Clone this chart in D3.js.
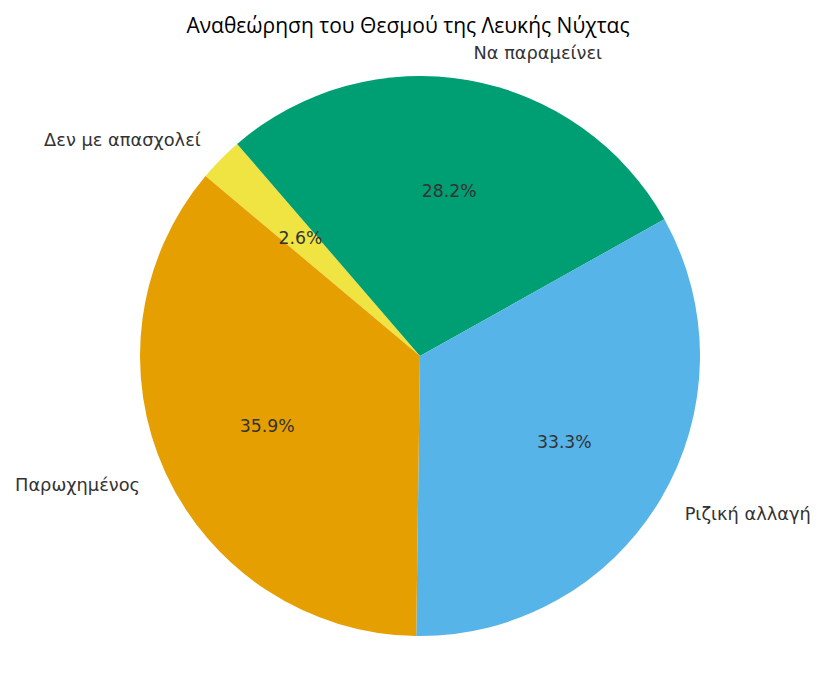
<!DOCTYPE html>
<html><head><meta charset="utf-8">
<script src="https://cdn.jsdelivr.net/npm/d3@7"></script>
<style>body{margin:0;background:#fff}</style>
</head><body>
<script>
const categories = ["Δεν με απασχολεί", "Να παραμείνει", "Ριζική αλλαγή", "Παρωχημένος"];
const values = [1, 11, 13, 14];
const colors = ["#F0E442", "#009E73", "#56B4E9", "#E69F00"];
const title = "Αναθεώρηση του Θεσμού της Λευκής Νύχτας";

const W = 825, H = 678, cx = 420, cy = 356, R = 280;
const svg = d3.select("body").append("svg").attr("width", W).attr("height", H);
svg.append("text").attr("x", 408).attr("y", 33).attr("text-anchor", "middle")
  .attr("font-family", "'Open Sans', 'Noto Sans', sans-serif").attr("font-size", 21)
  .attr("fill", "#000").text(title);

const start = -50 * Math.PI / 180;
const pie = d3.pie().sort(null).value(d => d).startAngle(start).endAngle(start + 2 * Math.PI);
const arcs = pie(values);
const arc = d3.arc().innerRadius(0).outerRadius(R);
const g = svg.append("g").attr("transform", `translate(${cx},${cy})`);
g.selectAll("path").data(arcs).join("path").attr("d", arc).attr("fill", (d, i) => colors[i]);

const total = d3.sum(values);
arcs.forEach((a, i) => {
  const m = (a.startAngle + a.endAngle) / 2;
  const px = 0.6 * R * Math.sin(m), py = -0.6 * R * Math.cos(m);
  g.append("text").attr("x", px).attr("y", py).attr("text-anchor", "middle").attr("dominant-baseline", "central")
    .attr("font-family", "'DejaVu Sans', sans-serif").attr("font-size", 17.3).attr("fill", "#333")
    .text((values[i] / total * 100).toFixed(1) + "%");
  const lx = 1.1 * R * Math.sin(m), ly = -1.1 * R * Math.cos(m);
  g.append("text").attr("x", lx).attr("y", ly).attr("text-anchor", lx > 0 ? "start" : "end").attr("dominant-baseline", "central")
    .attr("font-family", "'DejaVu Sans', sans-serif").attr("font-size", 17.8).attr("fill", "#333")
    .text(categories[i]);
});
</script>
</body></html>
